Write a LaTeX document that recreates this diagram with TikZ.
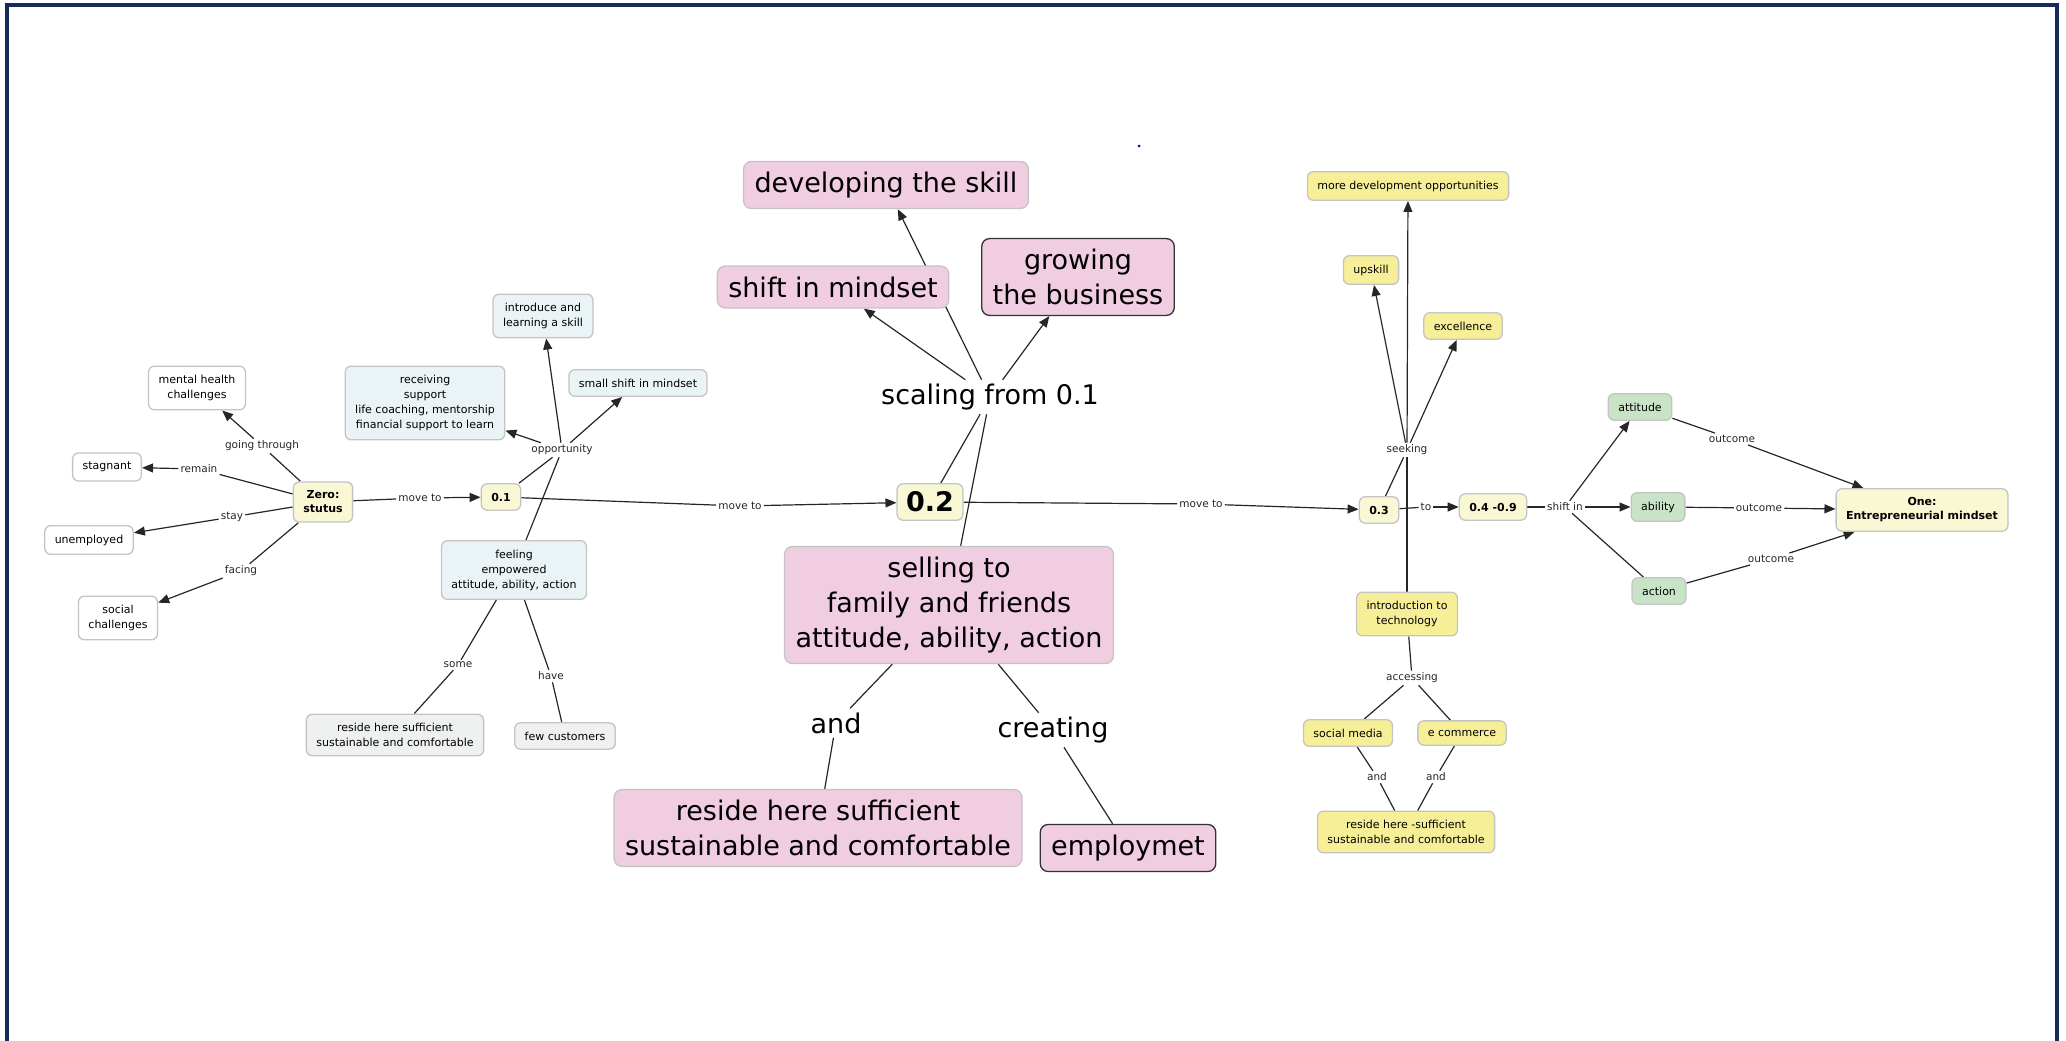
\documentclass[tikz,border=0pt]{standalone}
\usepackage{fontspec}
\setmainfont{DejaVu Sans}
\usetikzlibrary{arrows.meta,backgrounds}
\definecolor{framenavy}{HTML}{172B5A}
\definecolor{boxgray}{HTML}{C4C4C4}
\definecolor{creamfill}{HTML}{FAF7D4}
\definecolor{bluefill}{HTML}{EAF3F5}
\definecolor{grayfill}{HTML}{EFF1F1}
\definecolor{pinkfill}{HTML}{F0CDE1}
\definecolor{yellowfill}{HTML}{F6EF97}
\definecolor{greenfill}{HTML}{C8E3C6}
\tikzset{
    concept/.style={draw=boxgray,line width=1.3pt,rounded corners=6pt,align=center,
        inner xsep=10pt,inner ysep=9pt,font=\fontsize{11}{15}\selectfont},
    stage/.style={concept,fill=creamfill,font=\fontsize{11}{14}\selectfont\bfseries},
    plain/.style={concept,fill=white},
    support/.style={concept,fill=bluefill},
    settled/.style={concept,fill=grayfill},
    growth/.style={concept,fill=yellowfill},
    mindset/.style={concept,fill=greenfill},
    bigpink/.style={concept,fill=pinkfill,rounded corners=8pt,inner xsep=11pt,inner ysep=10.5pt,
        font=\fontsize{27}{35}\selectfont},
    darkpink/.style={bigpink,draw=black!80},
    phrase/.style={inner sep=2pt,text=black!85,font=\fontsize{10.5}{12}\selectfont},
    bigphrase/.style={phrase,inner sep=4pt,text=black,font=\fontsize{27}{32}\selectfont},
    link/.style={black!85,line width=1.2pt},
    linkto/.style={link,-{Triangle[length=11pt,width=9pt]}}
}

\begin{document}
\begin{tikzpicture}[x=1pt,y=-1pt]
\useasboundingbox (0,0) rectangle (2066,1041);
\draw[framenavy,line width=4.5pt] (7,1041)--(7,5)--(2057,5)--(2057,1041);
\fill[blue!70!black] (1139,146) circle (1.5);

% zero and 0.1
\node[stage] (zero) at (323,502) {Zero:\\stutus};
\node[plain] (mental) at (197,388) {mental health\\challenges};
\node[plain] (stagnant) at (107,467) {stagnant};
\node[plain] (unemployed) at (89,540) {unemployed};
\node[plain] (social) at (118,618) {social\\challenges};
\node[phrase] (going) at (262,446) {going through};
\node[phrase] (remain) at (199,469) {remain};
\node[phrase] (stay) at (232,517) {stay};
\node[phrase] (facing) at (241,571) {facing};
\node[phrase] (moveA) at (420,498) {move to};
\node[stage] (pointone) at (501,497) {0.1};
\node[support] (introduce) at (543,316) {introduce and\\learning a skill};
\node[support] (receiving) at (425,403) {receiving\\support\\life coaching, mentorship\\financial support to learn};
\node[support] (smallshift) at (638,383) {small shift in mindset};
\node[phrase] (opportunity) at (562,450) {opportunity};
\node[support] (feeling) at (514,570) {feeling\\empowered\\attitude, ability, action};
\node[phrase] (some) at (458,665) {some};
\node[phrase] (have) at (551,676) {have};
\node[settled] (resideA) at (395,735) {reside here sufficient\\sustainable and comfortable};
\node[settled] (few) at (565,736) {few customers};

% 0.2
\node[phrase] (moveB) at (740,506) {move to};
\node[stage,rounded corners=6pt,inner xsep=9pt,inner ysep=8pt,font=\fontsize{27}{30}\selectfont\bfseries] (pointtwo) at (930,502) {0.2};
\node[bigphrase] (scaling) at (990,397) {scaling from 0.1};
\node[bigpink] (developing) at (886,185) {developing the skill};
\node[bigpink] (shiftmind) at (833,287) {shift in mindset};
\node[darkpink] (growing) at (1078,277) {growing\\the business};
\node[bigpink] (selling) at (949,605) {selling to\\family and friends\\attitude, ability, action};
\node[bigphrase] (andB) at (836,723) {and};
\node[bigphrase] (creating) at (1053,730) {creating};
\node[bigpink] (resideB) at (818,828) {reside here sufficient\\sustainable and comfortable};
\node[darkpink] (employ) at (1128,848) {employmet};

% 0.3 and 0.4 -0.9
\node[phrase] (moveC) at (1201,504) {move to};
\node[stage] (pointthree) at (1379,510) {0.3};
\node[phrase] (to) at (1426,507) {to};
\node[stage] (pointfour) at (1493,507) {0.4 -0.9};
\node[phrase] (seeking) at (1407,450) {seeking};
\node[growth] (moredev) at (1408,186) {more development opportunities};
\node[growth] (upskill) at (1371,270) {upskill};
\node[growth] (excellence) at (1463,326) {excellence};
\node[growth] (intro) at (1407,614) {introduction to\\technology};
\node[phrase] (accessing) at (1412,678) {accessing};
\node[growth] (socialmedia) at (1348,733) {social media};
\node[growth] (ecommerce) at (1462,733) {e commerce};
\node[phrase] (andC) at (1377,777) {and};
\node[phrase] (andD) at (1436,777) {and};
\node[growth] (resideC) at (1406,832) {reside here -sufficient\\sustainable and comfortable};

% one
\node[phrase] (shiftin) at (1565,507) {shift in};
\node[mindset] (attitude) at (1640,407) {attitude};
\node[mindset] (ability) at (1658,507) {ability};
\node[mindset] (action) at (1659,591) {action};
\node[phrase] (outA) at (1732,439) {outcome};
\node[phrase] (outB) at (1759,508) {outcome};
\node[phrase] (outC) at (1771,559) {outcome};
\node[stage] (onefinal) at (1922,510) {One:\\Entrepreneurial mindset};

\begin{pgfonlayer}{background}
\draw[link] (zero)--(going);
\draw[linkto] (going)--(mental);
\draw[link] (zero)--(remain);
\draw[linkto] (remain)--(stagnant);
\draw[link] (zero)--(stay);
\draw[linkto] (stay)--(unemployed);
\draw[link] (zero)--(facing);
\draw[linkto] (facing)--(social);
\draw[link] (zero)--(moveA);
\draw[linkto] (moveA)--(pointone);
\draw[link] (pointone)--(opportunity);
\draw[link] (feeling)--(opportunity);
\draw[linkto] (opportunity)--(introduce);
\draw[linkto] (opportunity)--(receiving);
\draw[linkto] (opportunity)--(smallshift);
\draw[link] (feeling)--(some);
\draw[link] (some)--(resideA);
\draw[link] (feeling)--(have);
\draw[link] (have)--(few);
\draw[link] (pointone)--(moveB);
\draw[linkto] (moveB)--(pointtwo);
\draw[link] (pointtwo)--(scaling);
\draw[link] (selling)--(scaling);
\draw[linkto] (scaling)--(developing);
\draw[linkto] (scaling)--(shiftmind);
\draw[linkto] (scaling)--(growing);
\draw[link] (selling)--(andB);
\draw[link] (andB)--(resideB);
\draw[link] (selling)--(creating);
\draw[link] (creating)--(employ);
\draw[link] (pointtwo)--(moveC);
\draw[linkto] (moveC)--(pointthree);
\draw[link] (pointthree)--(to);
\draw[linkto] (to)--(pointfour);
\draw[link] (pointthree)--(seeking);
\draw[link] (intro)--(seeking);
\draw[linkto] (seeking)--(moredev);
\draw[linkto] (seeking)--(upskill);
\draw[linkto] (seeking)--(excellence);
\draw[link] (intro)--(accessing);
\draw[link] (accessing)--(socialmedia);
\draw[link] (accessing)--(ecommerce);
\draw[link] (socialmedia)--(andC);
\draw[link] (andC)--(resideC);
\draw[link] (ecommerce)--(andD);
\draw[link] (andD)--(resideC);
\draw[link] (pointfour)--(shiftin);
\draw[linkto] (shiftin)--(attitude);
\draw[linkto] (shiftin)--(ability);
\draw[link] (shiftin)--(action);
\draw[link] (attitude)--(outA);
\draw[linkto] (outA)--(onefinal);
\draw[link] (ability)--(outB);
\draw[linkto] (outB)--(onefinal);
\draw[link] (action)--(outC);
\draw[linkto] (outC)--(onefinal);
\end{pgfonlayer}
\end{tikzpicture}
\end{document}
